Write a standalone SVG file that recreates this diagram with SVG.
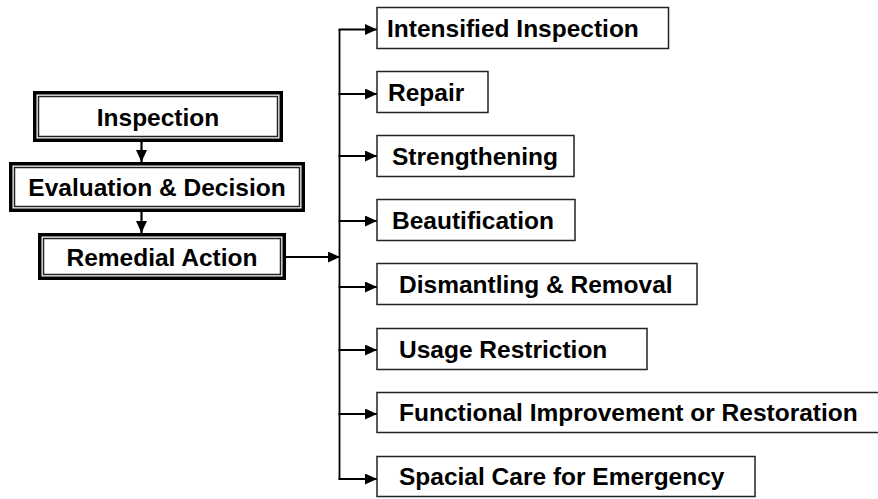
<svg xmlns="http://www.w3.org/2000/svg" width="878" height="499" viewBox="0 0 878 499">
<defs>
<style>
.t{font-family:"Liberation Sans",Arial,sans-serif;font-weight:bold;font-size:24.5px;fill:#000}
.c{text-anchor:middle}
.outer{fill:#fff;stroke:#000;stroke-width:3.5}
.inner{fill:none;stroke:#222;stroke-width:1.5}
.box{fill:#fff;stroke:#222;stroke-width:1.5}
.ln{fill:none;stroke:#000;stroke-width:2.2}
.vl{fill:none;stroke:#000;stroke-width:1.8}
</style>
<marker id="ah" markerUnits="userSpaceOnUse" markerWidth="12" markerHeight="11" refX="12" refY="5.5" orient="auto">
<path d="M0,0 L12,5.5 L0,11 z" fill="#000"/>
</marker>
</defs>
<rect width="878" height="499" fill="#fff"/>

<g id="connectors">
<line class="ln" x1="141.5" y1="142" x2="141.5" y2="162" marker-end="url(#ah)"/>
<line class="ln" x1="141.5" y1="212" x2="141.5" y2="233" marker-end="url(#ah)"/>
<line class="ln" x1="286" y1="257" x2="340" y2="257" marker-end="url(#ah)"/>
<line class="vl" x1="339.5" y1="29" x2="339.5" y2="480"/>
<line class="ln" x1="338.6" y1="29.5" x2="377" y2="29.5" marker-end="url(#ah)"/>
<line class="ln" x1="338.6" y1="94" x2="377" y2="94" marker-end="url(#ah)"/>
<line class="ln" x1="338.6" y1="156" x2="377" y2="156" marker-end="url(#ah)"/>
<line class="ln" x1="338.6" y1="221" x2="377" y2="221" marker-end="url(#ah)"/>
<line class="ln" x1="338.6" y1="287" x2="377" y2="287" marker-end="url(#ah)"/>
<line class="ln" x1="338.6" y1="350" x2="377" y2="350" marker-end="url(#ah)"/>
<line class="ln" x1="338.6" y1="414" x2="377" y2="414" marker-end="url(#ah)"/>
<line class="ln" x1="338.6" y1="479" x2="377" y2="479" marker-end="url(#ah)"/>
</g>

<g id="inspection">
<rect class="outer" x="34.75" y="92.75" width="246.5" height="47.5"/>
<rect class="inner" x="38.5" y="96.5" width="239" height="40"/>
<text class="t c" x="158" y="125.5">Inspection</text>
</g>
<g id="evaluation">
<rect class="outer" x="10.75" y="163.75" width="292.5" height="46.5"/>
<rect class="inner" x="14.5" y="167.5" width="285" height="39"/>
<text class="t c" x="157" y="196">Evaluation &amp; Decision</text>
</g>
<g id="remedial">
<rect class="outer" x="39.75" y="234.75" width="244.5" height="43.5"/>
<rect class="inner" x="43.5" y="238.5" width="237" height="36"/>
<text class="t c" x="162" y="265.5">Remedial Action</text>
</g>

<g id="intensified">
<rect class="box" x="377" y="7.5" width="291.5" height="41"/>
<text class="t" x="387" y="36.5">Intensified Inspection</text>
</g>
<g id="repair">
<rect class="box" x="377" y="71.5" width="111" height="41"/>
<text class="t" x="388" y="100.5">Repair</text>
</g>
<g id="strengthening">
<rect class="box" x="377" y="135.5" width="197" height="41"/>
<text class="t" x="392" y="164.5">Strengthening</text>
</g>
<g id="beautification">
<rect class="box" x="377" y="199.5" width="198" height="41"/>
<text class="t" x="392" y="228.5">Beautification</text>
</g>
<g id="dismantling">
<rect class="box" x="377" y="263.5" width="320" height="41"/>
<text class="t" x="399" y="292.5">Dismantling &amp; Removal</text>
</g>
<g id="usage">
<rect class="box" x="377" y="328.5" width="270" height="41"/>
<text class="t" x="399" y="357.5">Usage Restriction</text>
</g>
<g id="functional">
<rect class="box" x="377" y="392.5" width="510" height="40"/>
<text class="t" x="399" y="421">Functional Improvement or Restoration</text>
</g>
<g id="spacial">
<rect class="box" x="377" y="456.5" width="378" height="40"/>
<text class="t" x="399" y="485">Spacial Care for Emergency</text>
</g>
</svg>
